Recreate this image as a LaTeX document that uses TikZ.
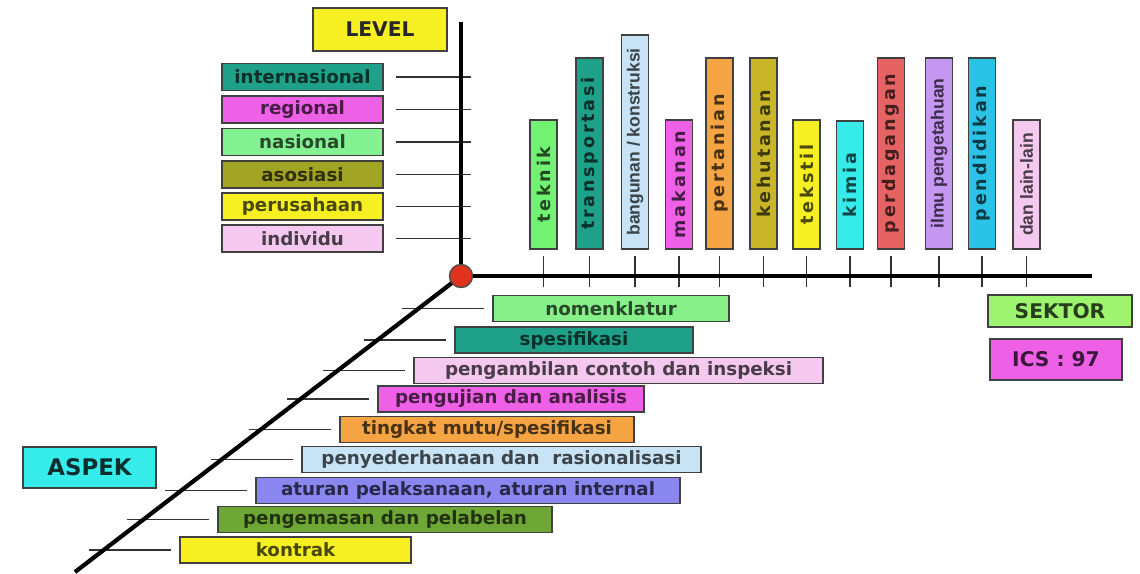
\documentclass[tikz,border=0pt]{standalone}
\usepackage{fontspec}
\setmainfont{DejaVu Sans}
\newfontfamily\spreadfont[LetterSpace=16]{DejaVu Sans}
\newfontfamily\narrowfont{Liberation Sans}
\usepackage{tikz}

\newcommand{\spreadtxt}{\spreadfont\bfseries\fontsize{10}{12}\selectfont}
\newcommand{\narrowtxt}{\narrowfont\bfseries\fontsize{10}{12}\selectfont}

\definecolor{cteal}{HTML}{1FA088}
\definecolor{cmagenta}{HTML}{EE60E6}
\definecolor{clgreen}{HTML}{84F293}
\definecolor{colive}{HTML}{A2A424}
\definecolor{cyellow}{HTML}{F6EF22}
\definecolor{cpink}{HTML}{F5C8F0}
\definecolor{cteknik}{HTML}{72F272}
\definecolor{cblue}{HTML}{C8E3F5}
\definecolor{corange}{HTML}{F5A444}
\definecolor{ckhaki}{HTML}{C8B628}
\definecolor{ccyan}{HTML}{36ECEA}
\definecolor{csalmon}{HTML}{E66363}
\definecolor{clilac}{HTML}{C597F0}
\definecolor{cazure}{HTML}{2AC3E6}
\definecolor{cnomen}{HTML}{88F088}
\definecolor{cperi}{HTML}{8A86F0}
\definecolor{cgrass}{HTML}{6EA736}
\definecolor{csektor}{HTML}{9EF46E}
\definecolor{cred}{HTML}{E0321E}

\begin{document}
\begin{tikzpicture}[x=0.02cm, y=-0.02cm,
    box/.style={draw=black!75, line width=0.8pt, inner sep=0pt,
        font=\bfseries\fontsize{10.4}{12}\selectfont},
    levelbox/.style={box, minimum width=3.22cm, minimum height=0.54cm},
    bar/.style={draw=black!75, line width=0.8pt, inner sep=0pt, rotate=90,
        minimum height=0.54cm},
    title/.style={box, font=\bfseries\fontsize{11.5}{13}\selectfont},
    tick/.style={black!80, line width=1pt}]

    \useasboundingbox (0,0) rectangle (1140,574);

    % level
    \node[title, fill=cyellow, text=black!85, minimum width=2.68cm, minimum height=0.86cm]
        (level) at (380,29.5) {LEVEL};
    \foreach \name/\col/\y in {internasional/cteal/77, regional/cmagenta/109.5,
            nasional/clgreen/142, asosiasi/colive/174.5,
            perusahaan/cyellow/206.5, individu/cpink/238.5}
        {
        \node[levelbox, fill=\col, text=\col!30!black] (\name) at (302.5,\y) {\name};
        \draw[tick] (\name.east) ++(12,0) -- ++(75,0);
        }

    % sektor
    \foreach \name/\txt/\f/\col/\x/\cy/\len in {
            teknik/teknik/\spreadtxt/cteknik/543.5/184.5/2.58,
            transportasi/transportasi/\spreadtxt/cteal/589.5/153.5/3.82,
            bangunan/{bangunan / konstruksi}/\narrowtxt/cblue/635/142/4.28,
            makanan/makanan/\spreadtxt/cmagenta/679/184.5/2.58,
            pertanian/pertanian/\spreadtxt/corange/719.5/153.5/3.82,
            kehutanan/kehutanan/\spreadtxt/ckhaki/763.5/153.5/3.82,
            tekstil/tekstil/\spreadtxt/cyellow/806.5/184.5/2.58,
            kimia/kimia/\spreadtxt/ccyan/850/185/2.56,
            perdagangan/perdagangan/\spreadtxt/csalmon/891/153.5/3.82,
            ilmu/ilmu pengetahuan/\narrowtxt/clilac/939/153.5/3.82,
            pendidikan/pendidikan/\spreadtxt/cazure/982/153.5/3.82,
            lainlain/dan lain-lain/\narrowtxt/cpink/1026.5/184.5/2.58}
        {
        \node[bar, fill=\col, text=\col!30!black, font=\f, minimum width=\len cm]
            (\name) at (\x,\cy) {\txt};
        \draw[tick] (\name.west) ++(0,6) -- ++(0,31);
        }
    \node[title, fill=csektor, text=csektor!25!black, minimum width=2.88cm, minimum height=0.64cm]
        (sektor) at (1060,311) {SEKTOR};
    \node[title, fill=cmagenta, text=cmagenta!25!black, minimum width=2.64cm, minimum height=0.82cm]
        (ics) at (1056,359.5) {ICS : 97};

    % aspek
    \foreach \i/\txt/\col/\x/\y/\w in {
            1/nomenklatur/cnomen/611/308.5/4.72,
            2/spesifikasi/cteal/574/340/4.76,
            3/pengambilan contoh dan inspeksi/cpink/618.5/370.5/8.18,
            4/pengujian dan analisis/cmagenta/511/399/5.32,
            5/{tingkat mutu/spesifikasi}/corange/487/429.5/5.88,
            6/{penyederhanaan dan~ rasionalisasi}/cblue/501.5/459.5/7.98,
            7/{aturan pelaksanaan, aturan internal}/cperi/468/490.5/8.48,
            8/pengemasan dan pelabelan/cgrass/385/519.5/6.68,
            9/kontrak/cyellow/295.5/550/4.62}
        {
        \node[box, fill=\col, text=\col!30!black, minimum width=\w cm, minimum height=0.52cm]
            (aspek\i) at (\x,\y) {\txt};
        \draw[tick] (aspek\i.west) ++(-8,0) -- ++(-82,0);
        }
    \node[title, fill=ccyan, text=ccyan!20!black, minimum width=2.66cm, minimum height=0.82cm,
        font=\bfseries\fontsize{13}{15}\selectfont] (aspek) at (89.5,467.5) {ASPEK};

    % axes
    \coordinate (O) at (461,276);
    \coordinate (ytop) at (461,22);
    \coordinate (xend) at (1092,276);
    \coordinate (zend) at (75,572);
    \draw[line width=2.8pt] (O) -- (ytop);
    \draw[line width=2.8pt] (O) -- (xend);
    \draw[line width=2.4pt] (O) -- (zend);
    \node[circle, draw=black!70, line width=0.8pt, fill=cred, minimum size=0.46cm, inner sep=0pt]
        (origin) at (O) {};
\end{tikzpicture}
\end{document}
